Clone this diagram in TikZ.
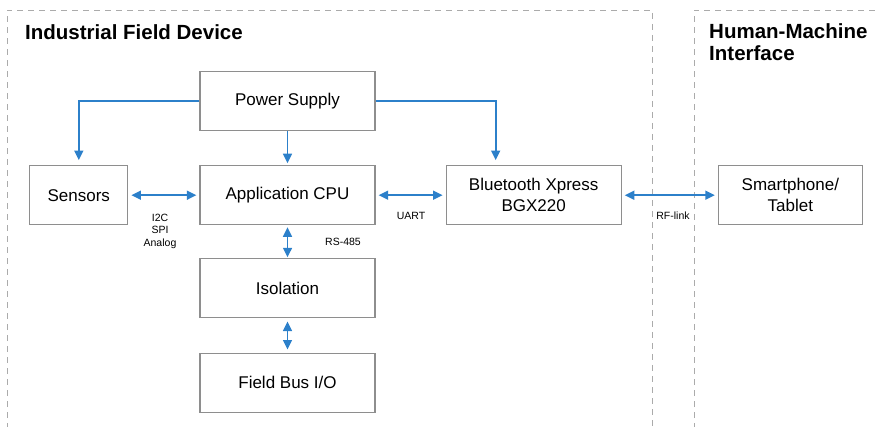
\documentclass[tikz,border=0pt]{standalone}
\usepackage{fontspec}
\setmainfont{Liberation Sans}
\usepackage{tikz}
\usetikzlibrary{positioning}
\usetikzlibrary{arrows.meta}

\definecolor{linkblue}{HTML}{2C80CA}
\definecolor{boxgray}{HTML}{8E8E8E}
\definecolor{framegray}{HTML}{ABABAB}

\begin{document}
\begin{tikzpicture}[
  x=1pt,y=-1pt,
  node distance=34pt and 71pt,
  block/.style={draw=boxgray,line width=1.2pt,minimum width=175pt,minimum height=59pt,
    align=center,font=\fontsize{17}{21}\selectfont,inner sep=2pt},
  link/.style={draw=linkblue,line width=1.6pt,
    arrows={-Triangle[length=9.5pt,width=9pt]}},
  biglink/.style={link,arrows={Triangle[length=9.5pt,width=9pt]-Triangle[length=9.5pt,width=9pt]}},
  frame/.style={draw=framegray,line width=0.9pt,dash pattern=on 6pt off 5pt},
  title/.style={font=\fontsize{20.5}{22}\selectfont\bfseries,align=left,anchor=north west,inner sep=0pt},
  tag/.style={font=\fontsize{10.5}{12.5}\selectfont,align=center,inner sep=0pt}
]
\useasboundingbox (0,0) rectangle (880,427);

% frames
\draw[frame] (7,440) -- (7,10) -- (652,10) -- (652,440);
\draw[frame] (694,440) -- (694,10) -- (900,10);
\node[title] (devtitle) at (25,24) {Industrial Field Device};
\node[title] (hmititle) at (709,23) {Human-Machine\\Interface};

% blocks
\node[block] (power) at (287.5,101) {Power Supply};
\node[block,below=of power] (cpu) {Application CPU};
\node[block,minimum width=98pt,left=of cpu] (sensors) {Sensors};
\node[block,right=70pt of cpu] (bt) {Bluetooth Xpress\\BGX220};
\node[block,minimum width=144pt,right=96pt of bt] (phone) {Smartphone/\\Tablet};
\node[block,below=33pt of cpu] (iso) {Isolation};
\node[block,below=of iso] (bus) {Field Bus I/O};

% labels
\node[tag] (bustag) at (160,231) {I2C\\SPI\\Analog};
\node[tag] (rstag) at (343,242) {RS-485};
\node[tag] (uarttag) at (411,216) {UART};
\node[tag] (rftag) at (673,216) {RF-link};

% connections
\draw[link,shorten >=5pt] (power.west) -| (sensors.north);
\draw[link,shorten >=5pt] (power.east) -| ([xshift=-38pt]bt.north);
\draw[link,shorten >=2pt] (power) -- (cpu);
\draw[biglink,shorten <=3pt,shorten >=3pt] (sensors) -- (cpu);
\draw[biglink,shorten <=3pt,shorten >=3pt] (cpu) -- (bt);
\draw[biglink,shorten <=3pt,shorten >=3pt] (bt) -- (phone);
\draw[biglink,shorten <=2pt,shorten >=1pt] (cpu) -- (iso);
\draw[biglink,shorten <=3pt,shorten >=3pt] (iso) -- (bus);

\end{tikzpicture}
\end{document}
